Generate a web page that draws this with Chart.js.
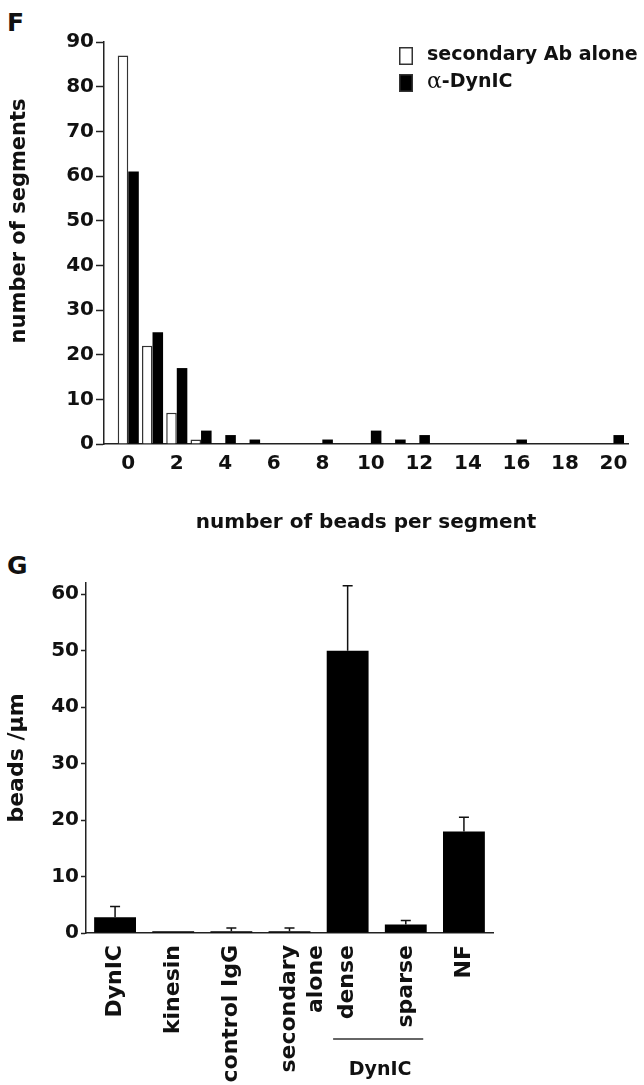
<!DOCTYPE html>
<html>
<head>
<meta charset="utf-8">
<title>Beads per segment</title>
<script src="https://cdn.jsdelivr.net/npm/chart.js@4.4.1/dist/chart.umd.min.js"></script>
<style>
  body { margin: 0; background: #fff; }
  #page { position: relative; width: 644px; height: 1085px; overflow: hidden; background: #fff; }
  .panel { position: absolute; font: bold 25px "DejaVu Sans", sans-serif; color: #111; line-height: 29px; }
  canvas { position: absolute; left: 0; }
</style>
</head>
<body>
<div id="page">
  <div class="panel" style="left:7px; top:8px;">F</div>
  <div class="panel" style="left:7px; top:551px;">G</div>
  <canvas id="histChart" width="644" height="545" style="top:0"></canvas>
  <canvas id="densityChart" width="644" height="540" style="top:545px"></canvas>
</div>
<script>
// ---- panel F: number of segments vs beads per segment ----
const beadBins = [0, 1, 2, 3, 4, 5, 6, 7, 8, 9, 10, 11, 12, 13, 14, 15, 16, 17, 18, 19, 20];
const secondaryCounts = [87, 22, 7, 1, 0, 0, 0, 0, 0, 0, 0, 0, 0, 0, 0, 0, 0, 0, 0, 0, 0];
const dynicCounts = [61, 25, 17, 3, 2, 1, 0, 0, 1, 0, 3, 1, 2, 0, 0, 0, 1, 0, 0, 0, 2];
const histTicks = [0, 2, 4, 6, 8, 10, 12, 14, 16, 18, 20];

// ---- panel G: beads per um for each antibody ----
const conditions = ['DynIC', 'kinesin', 'control IgG', ['secondary', 'alone'], 'dense', 'sparse', 'NF'];
const beadsPerUm = [2.8, 0.3, 0.3, 0.3, 50, 1.5, 18];
const beadsErr = [1.9, 0, 0.6, 0.6, 11.5, 0.7, 2.5];

const FONT = '"DejaVu Sans", sans-serif';
const INK = '#111';
Chart.defaults.font.family = FONT;
Chart.defaults.font.weight = 'bold';
Chart.defaults.font.size = 20;
Chart.defaults.color = INK;
Chart.defaults.animation = false;

// legend drawn inside the plot, top right
const boxLegend = {
  id: 'boxLegend',
  afterDraw(chart) {
    const ctx = chart.ctx;
    chart.data.datasets.forEach((ds, i) => {
      const y = 47 + i * 27;
      ctx.save();
      ctx.fillStyle = ds.backgroundColor;
      ctx.fillRect(399, y, 14, 18);
      ctx.strokeStyle = '#333';
      ctx.lineWidth = 1.5;
      ctx.strokeRect(399.75, y + 0.75, 12.5, 16.5);
      ctx.fillStyle = INK;
      ctx.textBaseline = 'middle';
      let x = 427;
      let text = ds.label;
      if (/^[\u03b1-\u03c9]/.test(text)) {
        // greek letter set in serif like the original
        ctx.font = '22px "DejaVu Serif", serif';
        ctx.fillText(text[0], x, y + 8);
        x += ctx.measureText(text[0]).width;
        text = text.slice(1);
      }
      ctx.font = 'bold 19px ' + FONT;
      ctx.fillText(text, x, y + 8);
      ctx.restore();
    });
  }
};

// y title of panel F sits above the axis middle in the original, so place it by hand
const histYTitle = {
  id: 'histYTitle',
  afterDraw(chart) {
    const ctx = chart.ctx;
    const a = chart.chartArea;
    ctx.save();
    ctx.translate(20, a.top + (a.bottom - a.top) * 0.445);
    ctx.rotate(-Math.PI / 2);
    ctx.font = 'bold 21px ' + FONT;
    ctx.fillStyle = INK;
    ctx.textAlign = 'center';
    ctx.textBaseline = 'middle';
    ctx.fillText('number of segments', 0, 0);
    ctx.restore();
  }
};

new Chart(document.getElementById('histChart'), {
  type: 'bar',
  data: {
    datasets: [
      {
        label: 'secondary Ab alone',
        data: beadBins.map((b, i) => ({ x: b, y: secondaryCounts[i] })),
        backgroundColor: '#fff',
        borderColor: '#333',
        borderWidth: 1.5,
        borderSkipped: 'bottom'
      },
      {
        label: '\u03b1-DynIC',
        data: beadBins.map((b, i) => ({ x: b, y: dynicCounts[i] })),
        backgroundColor: '#000',
        borderWidth: 0
      }
    ]
  },
  options: {
    responsive: false,
    devicePixelRatio: 1,
    layout: { padding: { left: 0, right: 16, top: 42, bottom: 0 } },
    datasets: { bar: { barPercentage: 1, categoryPercentage: 0.87, inflateAmount: 0 } },
    plugins: { legend: { display: false }, tooltip: { enabled: false } },
    scales: {
      x: {
        type: 'linear',
        offset: false,
        min: -1,
        max: 20.6,
        afterBuildTicks: axis => { axis.ticks = histTicks.map(v => ({ value: v })); },
        afterFit: axis => { axis.height = 101; },
        grid: { display: false, drawTicks: false, offset: false },
        border: { display: true, color: '#222', width: 1.5 },
        ticks: { padding: 8, font: { size: 20 } },
        title: { display: true, text: 'number of beads per segment', font: { size: 20 }, padding: { top: 0, bottom: 10 } }
      },
      y: {
        min: 0,
        max: 90,
        afterFit: axis => { axis.width = 104; },
        grid: { drawOnChartArea: false, drawTicks: true, tickLength: 8, tickWidth: 1.5, tickColor: '#222' },
        border: { display: true, color: '#222', width: 1.5 },
        ticks: { stepSize: 10, padding: 2, font: { size: 20 } }
      }
    }
  },
  plugins: [boxLegend, histYTitle]
});

// upper error bars for panel G
const errorBars = {
  id: 'errorBars',
  afterDatasetsDraw(chart) {
    const ctx = chart.ctx;
    const yScale = chart.scales.y;
    const ds = chart.data.datasets[0];
    ctx.save();
    ctx.strokeStyle = INK;
    ctx.lineWidth = 1.5;
    chart.getDatasetMeta(0).data.forEach((bar, i) => {
      if (!ds.errors[i]) return;
      const top = yScale.getPixelForValue(ds.data[i] + ds.errors[i]);
      ctx.beginPath();
      ctx.moveTo(bar.x, bar.y);
      ctx.lineTo(bar.x, top);
      ctx.moveTo(bar.x - 5, top);
      ctx.lineTo(bar.x + 5, top);
      ctx.stroke();
    });
    ctx.restore();
  }
};

// "DynIC" bracket under the dense / sparse labels
const groupLabel = {
  id: 'groupLabel',
  afterDraw(chart) {
    const ctx = chart.ctx;
    const x = chart.scales.x;
    const step = x.getPixelForValue(1) - x.getPixelForValue(0);
    const left = x.getPixelForValue(conditions.indexOf('dense')) - 0.25 * step;
    const right = x.getPixelForValue(conditions.indexOf('sparse')) + 0.3 * step;
    const y = chart.chartArea.bottom + 106;
    ctx.save();
    ctx.strokeStyle = '#333';
    ctx.lineWidth = 1.5;
    ctx.beginPath();
    ctx.moveTo(left, y);
    ctx.lineTo(right, y);
    ctx.stroke();
    ctx.fillStyle = INK;
    ctx.font = 'bold 19px ' + FONT;
    ctx.textAlign = 'center';
    ctx.textBaseline = 'middle';
    ctx.fillText('DynIC', (left + right) / 2 + 2, y + 31);
    ctx.restore();
  }
};

new Chart(document.getElementById('densityChart'), {
  type: 'bar',
  data: {
    labels: conditions,
    datasets: [{
      label: 'beads /\u03bcm',
      data: beadsPerUm,
      errors: beadsErr,
      backgroundColor: '#000',
      borderWidth: 0
    }]
  },
  options: {
    responsive: false,
    devicePixelRatio: 1,
    layout: { padding: { left: 0, right: 151, top: 38, bottom: 0 } },
    plugins: { legend: { display: false }, tooltip: { enabled: false } },
    scales: {
      x: {
        afterFit: axis => { axis.height = 152; },
        grid: { display: false, drawTicks: false },
        border: { display: true, color: '#222', width: 1.5 },
        ticks: { minRotation: 90, maxRotation: 90, autoSkip: false, padding: 12, font: { size: 22 } }
      },
      y: {
        min: 0,
        max: 62,
        afterFit: axis => { axis.width = 86; },
        grid: { drawOnChartArea: false, drawTicks: true, tickLength: 5, tickWidth: 1.5, tickColor: '#222' },
        border: { display: true, color: '#222', width: 1.5 },
        ticks: { stepSize: 10, includeBounds: false, padding: 2, font: { size: 20 } },
        title: { display: true, text: 'beads /\u03bcm', font: { size: 22 }, padding: { top: 4, bottom: 0 } }
      }
    }
  },
  plugins: [errorBars, groupLabel]
});
</script>
</body>
</html>
